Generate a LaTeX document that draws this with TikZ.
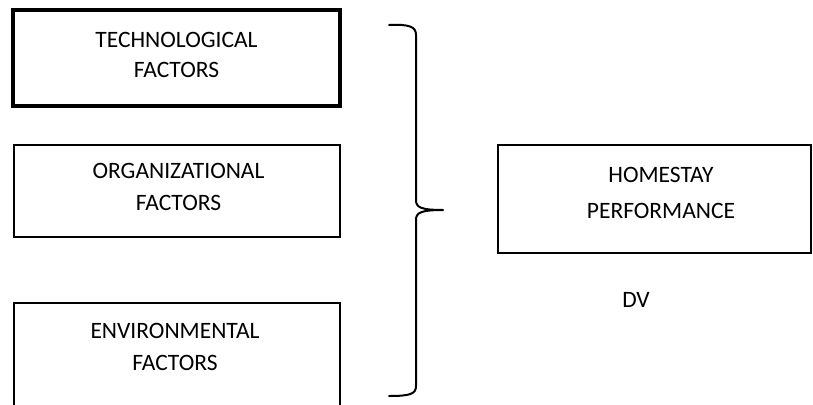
\documentclass[tikz,border=0pt]{standalone}
\usepackage{fontspec}
\setmainfont{Carlito}
\begin{document}
\begin{tikzpicture}[x=1pt,y=-1pt,
  box/.style={draw=black,line width=2pt,inner sep=0pt,outer sep=0pt,fill=none},
  lbl/.style={align=center,inner sep=0pt,font=\fontsize{23.5}{#1}\selectfont},
  lbl/.default=31,
  bracepath/.style={draw=black,line width=2pt,line cap=round,line join=round}]
\clip (0,0) rectangle (813,404);
\fill[white] (0,0) rectangle (813,404);
% boxes
\node[box,line width=3.2pt,minimum width=327pt,minimum height=96pt] (tech) at (176.5,58) {};
\node[box,minimum width=326pt,minimum height=92pt] (org) at (177,191) {};
\node[box,minimum width=326pt,minimum height=110pt] (env) at (177,358) {};
\node[box,minimum width=313pt,minimum height=108pt] (home) at (654.5,199) {};
% labels
\node[lbl=30] (techt) at (176.5,54.5) {TECHNOLOGICAL\\FACTORS};
\node[lbl=32] (orgt) at (178.5,187) {ORGANIZATIONAL\\FACTORS};
\node[lbl=32] (envt) at (175,347) {ENVIRONMENTAL\\FACTORS};
\node[lbl=36] (homet) at (661,193) {HOMESTAY\\PERFORMANCE};
\node[lbl] (dv) at (636,300) {DV};
% brace
\coordinate (btop) at (389,25);
\coordinate (bbot) at (389,396);
\coordinate (btip) at (443,210);
\draw[bracepath] (btop) .. controls (410,24) and (416,27) .. (416,35)
  -- (416,200) .. controls (416,207) and (420,210) .. (btip)
  .. controls (420,210) and (416,213) .. (416,220)
  -- (416,386) .. controls (416,394) and (410,396) .. (bbot);
\end{tikzpicture}
\end{document}
